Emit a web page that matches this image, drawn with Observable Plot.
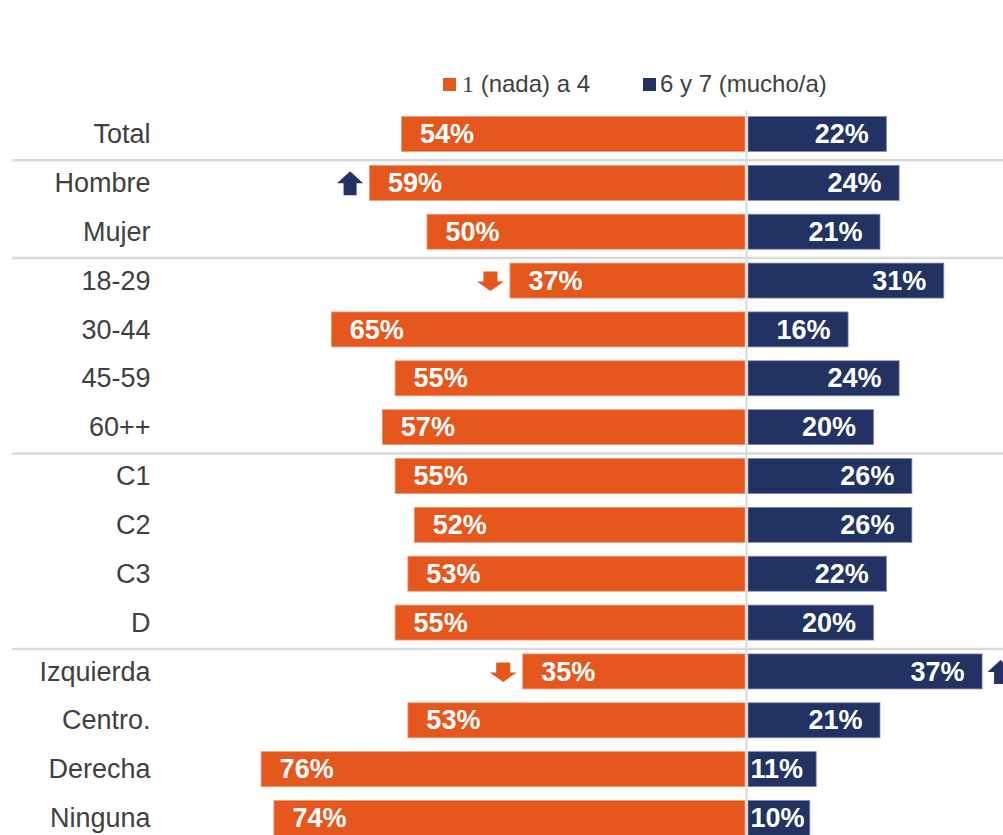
<!DOCTYPE html>
<html>
<head>
<meta charset="utf-8">
<script src="https://cdn.jsdelivr.net/npm/d3@7"></script>
<script src="https://cdn.jsdelivr.net/npm/@observablehq/plot@0.6"></script>
<style>
  html, body { margin: 0; padding: 0; background: #fff; }
  body { width: 1003px; height: 835px; overflow: hidden; font-family: "Liberation Sans", Arial, sans-serif; }
  #legend { position: relative; height: 105px; }
  .sw { position: absolute; top: 78px; width: 13px; height: 13px; }
  .lt { position: absolute; top: 72px; height: 24px; line-height: 24px; font-size: 24px; color: #404040; white-space: nowrap; }
  .serif { font-family: "Liberation Serif", "Times New Roman", serif; }
  svg { display: block; }
</style>
</head>
<body>
<div id="legend">
  <div class="sw" style="left:443px;background:#E5571D"></div>
  <div class="lt" style="left:462px"><span class="serif">1</span> (nada) a 4</div>
  <div class="sw" style="left:643px;background:#223263"></div>
  <div class="lt" style="left:660px">6 y 7 (mucho/a)</div>
</div>
<div id="chart"></div>
<script>
// ---- data ----
const categories = ["Total","Hombre","Mujer","18-29","30-44","45-59","60++","C1","C2","C3","D","Izquierda","Centro.","Derecha","Ninguna"];
const low  = [54,59,50,37,65,55,57,55,52,53,55,35,53,76,74];   // 1 (nada) a 4
const high = [22,24,21,31,16,24,20,26,26,22,20,37,21,11,10];   // 6 y 7 (mucho/a)
const groupStarts = ["Hombre","18-29","C1","Izquierda"];
const upArrowsLow = ["Hombre"];
const upArrowsHigh = ["Izquierda"];
const downArrowsLow = ["18-29","Izquierda"];

const ORANGE = "#E5571D";
const NAVY = "#223263";

const rows = categories.map((cat, i) => ({cat, low: low[i], high: high[i]}));
const byCat = new Map(rows.map(d => [d.cat, d]));

const arrowUp = {
  draw(ctx) {
    ctx.moveTo(0, -12); ctx.lineTo(13, 0); ctx.lineTo(6.5, 0); ctx.lineTo(6.5, 12);
    ctx.lineTo(-6.5, 12); ctx.lineTo(-6.5, 0); ctx.lineTo(-13, 0); ctx.closePath();
  }
};
const arrowDown = {
  draw(ctx) {
    ctx.moveTo(-7, -9.5); ctx.lineTo(7, -9.5); ctx.lineTo(7, 0.5); ctx.lineTo(13.5, 0.5);
    ctx.lineTo(0, 10); ctx.lineTo(-13.5, 0.5); ctx.lineTo(-7, 0.5); ctx.closePath();
  }
};

const chart = Plot.plot({
  width: 1003,
  height: 730,
  marginLeft: 160,
  marginRight: 0,
  marginTop: 0,
  marginBottom: 0,
  style: {fontFamily: "Liberation Sans, Arial, sans-serif", background: "white"},
  x: {domain: [-91.85, 40.28], axis: null},
  y: {domain: categories, range: [4.57, 737.43], paddingInner: 0.284, paddingOuter: 0.142, round: false, label: null},
  marks: [
    Plot.ruleY(groupStarts, {y: d => d, dy: -23, x1: -115, x2: 42, stroke: "#d9d9d9", strokeWidth: 2.5}),
    Plot.barX(rows, {y: "cat", x1: d => -d.low, x2: 0, fill: ORANGE, insetRight: 1, stroke: "#ee9a74", strokeWidth: 0.8}),
    Plot.barX(rows, {y: "cat", x1: 0, x2: d => d.high, fill: NAVY, insetLeft: 2, stroke: "#7f8ab0", strokeWidth: 0.8}),
    Plot.ruleX([0], {stroke: "#d9d9d9", strokeWidth: 2, insetTop: 6}),
    Plot.text(rows, {y: "cat", x: d => -d.low, text: d => d.low + "%", textAnchor: "start", dx: 18,
      fill: "white", fontWeight: "bold", fontSize: 27}),
    Plot.text(rows.filter(d => d.high >= 12), {y: "cat", x: d => d.high, text: d => d.high + "%", textAnchor: "end", dx: -18,
      fill: "white", fontWeight: "bold", fontSize: 27}),
    Plot.text(rows.filter(d => d.high < 12), {y: "cat", x: 0, text: d => d.high + "%", textAnchor: "start", dx: 4,
      fill: "white", fontWeight: "bold", fontSize: 27}),
    Plot.dot(upArrowsLow.map(c => byCat.get(c)), {y: "cat", x: d => -d.low, dx: -20, symbol: arrowUp, fill: NAVY, stroke: "none"}),
    Plot.dot(upArrowsHigh.map(c => byCat.get(c)), {y: "cat", x: d => d.high, dx: 18, symbol: arrowUp, fill: NAVY, stroke: "none"}),
    Plot.dot(downArrowsLow.map(c => byCat.get(c)), {y: "cat", x: d => -d.low, dx: -20, symbol: arrowDown, fill: ORANGE, stroke: "none"}),
    Plot.axisY({tickSize: 0, tickPadding: 10, fontSize: 27, color: "#404040", label: null})
  ]
});
document.getElementById("chart").appendChild(chart);
</script>
</body>
</html>
